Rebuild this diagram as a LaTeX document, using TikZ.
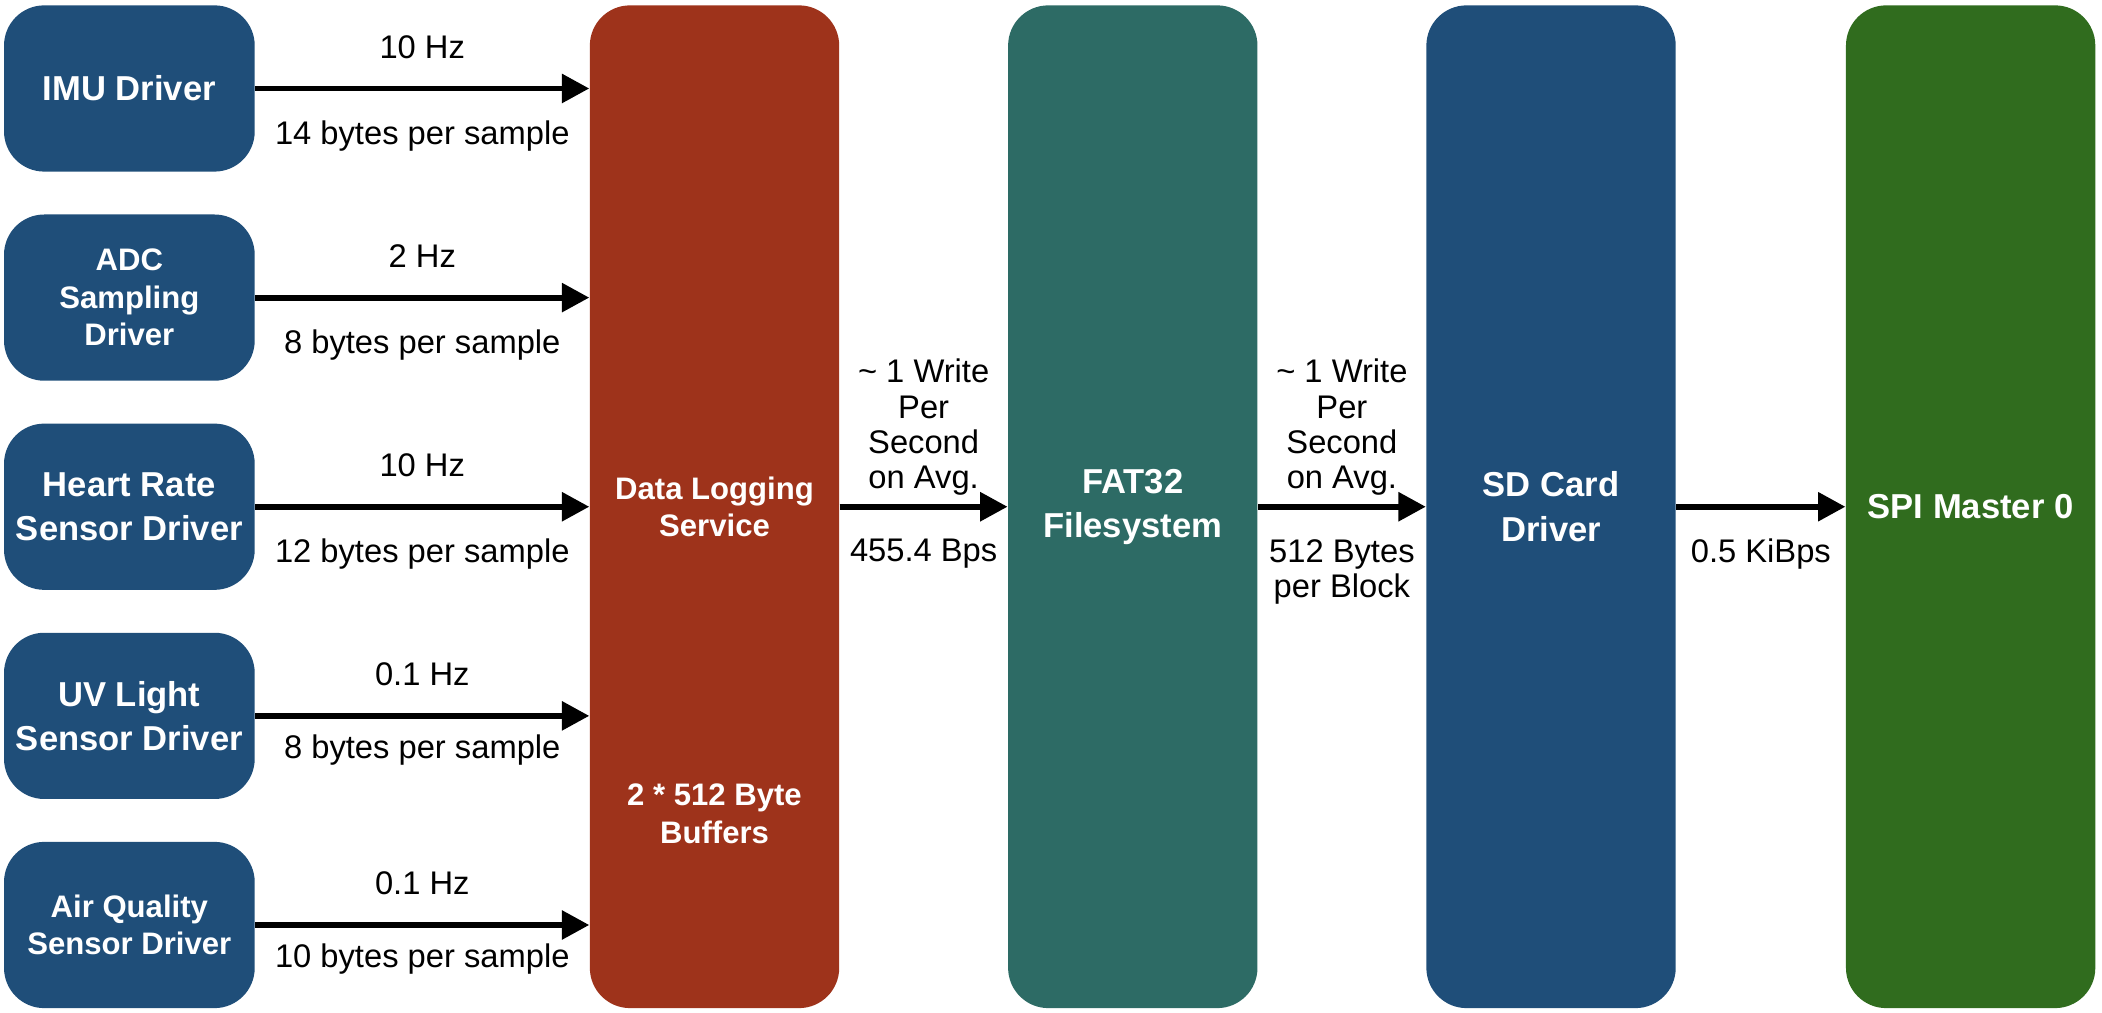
\documentclass[tikz,border=0pt]{standalone}
\usepackage{fontspec}
\setmainfont{Liberation Sans}
\usetikzlibrary{arrows.meta}
\definecolor{boxblue}{RGB}{31,78,121}
\definecolor{boxred}{RGB}{158,51,27}
\definecolor{boxteal}{RGB}{45,107,101}
\definecolor{boxgreen}{RGB}{48,108,30}
\begin{document}
\begin{tikzpicture}[x=0.5pt,y=-0.5pt,
  boxtext/.style={inner sep=0pt, align=center, text=white, font=\bfseries\fontsize{12.9}{16.5}\selectfont},
  smalltext/.style={font=\bfseries\fontsize{11.6}{14}\selectfont},
  drv/.style={boxtext, rounded corners=15pt, fill=boxblue, minimum width=93.5pt, minimum height=62pt},
  tall/.style={boxtext, rounded corners=15pt, minimum width=93pt, minimum height=374pt},
  flow/.style={line width=2.2pt, -{Triangle[length=10.2pt,width=10.4pt]}},
  lbl/.style={font=\fontsize{12.2}{13.2}\selectfont, inner sep=0pt, align=center},
]
\useasboundingbox (0,0) rectangle (1568,755);

% source drivers
\node[drv] (imu) at (96.5,66) {IMU Driver};
\node[drv, smalltext] (adc) at (96.5,222) {ADC\\Sampling\\Driver};
\node[drv] (hr) at (96.5,378) {Heart Rate\\Sensor Driver};
\node[drv] (uv) at (96.5,534) {UV Light\\Sensor Driver};
\node[drv, smalltext] (air) at (96.5,690) {Air Quality\\Sensor Driver};

% pipeline blocks
\node[tall, fill=boxred, smalltext] (dls) at (533,378) {Data Logging\\Service};
\node[boxtext, smalltext] (buf) at (533,607) {2 * 512 Byte\\Buffers};
\node[tall, fill=boxteal] (fat) at (845,378) {FAT32\\Filesystem};
\node[tall, fill=boxblue] (sd) at (1157,378) {SD Card\\Driver};
\node[tall, fill=boxgreen] (spi) at (1470,378) {SPI Master 0};

% driver connectors
\draw[flow] (imu.east) -- (imu.east -| dls.west)
  node[lbl, midway, above=10pt] {10 Hz}
  node[lbl, midway, below=11pt] {14 bytes per sample};
\draw[flow] (adc.east) -- (adc.east -| dls.west)
  node[lbl, midway, above=10pt] {2 Hz}
  node[lbl, midway, below=11pt] {8 bytes per sample};
\draw[flow] (hr.east) -- (hr.east -| dls.west)
  node[lbl, midway, above=10pt] {10 Hz}
  node[lbl, midway, below=11pt] {12 bytes per sample};
\draw[flow] (uv.east) -- (uv.east -| dls.west)
  node[lbl, midway, above=10pt] {0.1 Hz}
  node[lbl, midway, below=6pt] {8 bytes per sample};
\draw[flow] (air.east) -- (air.east -| dls.west)
  node[lbl, midway, above=10pt] {0.1 Hz}
  node[lbl, midway, below=6pt] {10 bytes per sample};

% pipeline connectors
\draw[flow] (dls.east) -- (fat.west)
  node[lbl, midway, above=3pt] {\textasciitilde{} 1 Write\\Per\\Second\\on Avg.}
  node[lbl, midway, below=11pt] {455.4 Bps};
\draw[flow] (fat.east) -- (sd.west)
  node[lbl, midway, above=3pt] {\textasciitilde{} 1 Write\\Per\\Second\\on Avg.}
  node[lbl, midway, below=11pt] {512 Bytes\\per Block};
\draw[flow] (sd.east) -- (spi.west)
  node[lbl, midway, below=11pt] {0.5 KiBps};
\end{tikzpicture}
\end{document}
